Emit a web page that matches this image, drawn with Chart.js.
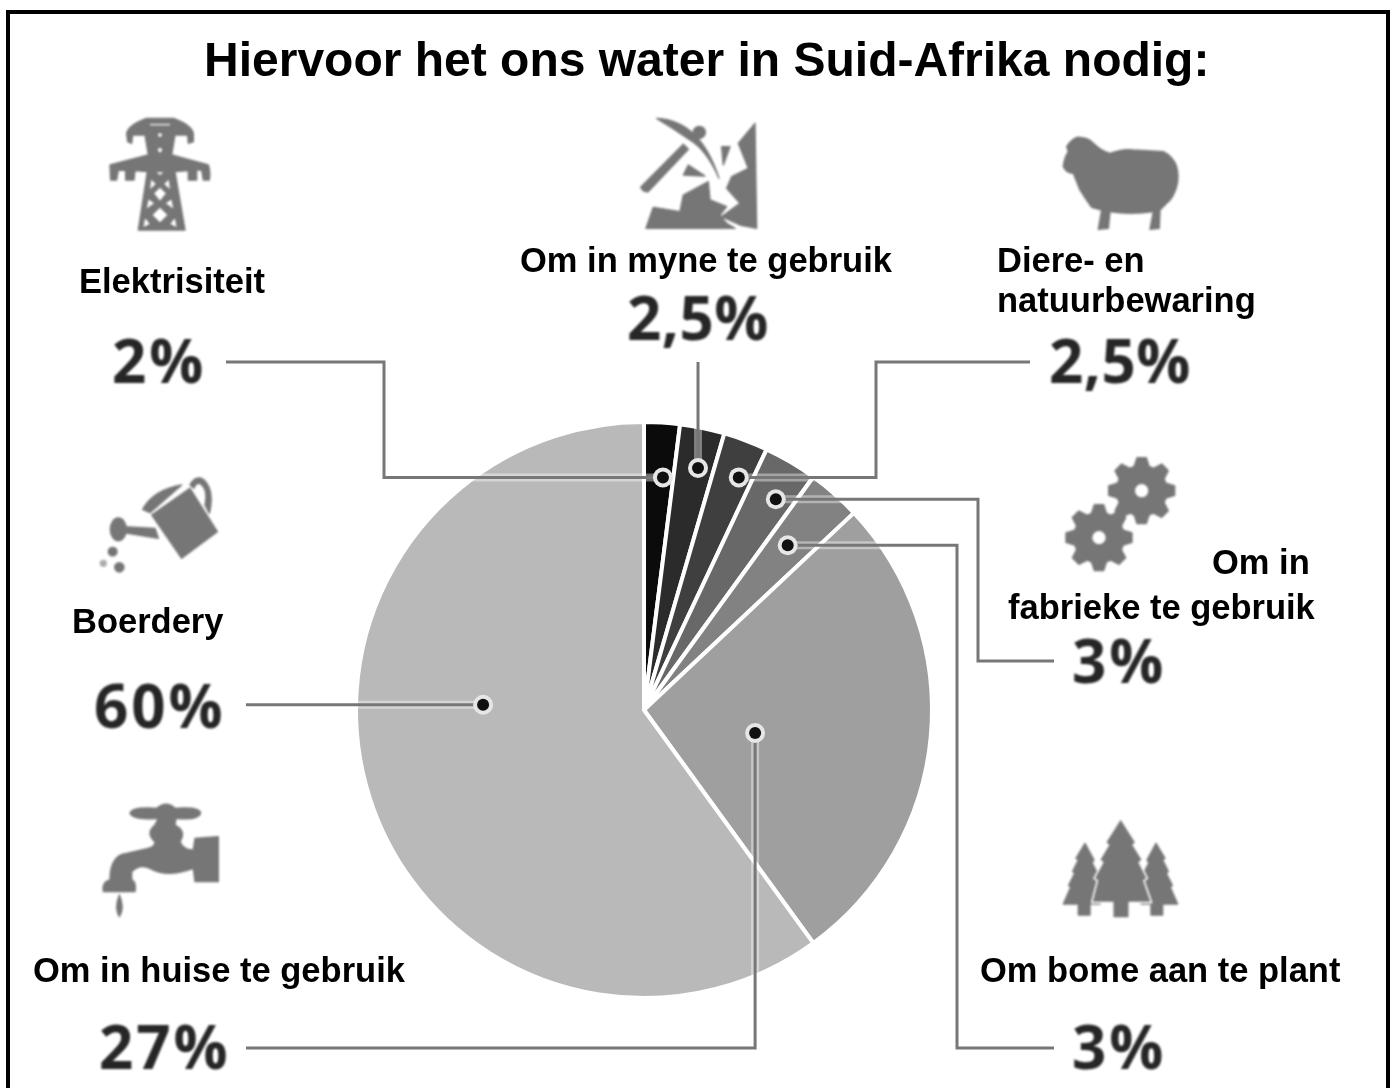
<!DOCTYPE html>
<html lang="af">
<head>
  <meta charset="utf-8">
  <title>Hiervoor het ons water in Suid-Afrika nodig</title>
  <script src="https://cdn.jsdelivr.net/npm/chart.js@4/dist/chart.umd.min.js"></script>
  <style>
    html, body { margin: 0; padding: 0; background: #fff; }
    #page { position: relative; width: 1392px; height: 1088px; overflow: hidden; background: #fff; }
    #chart { position: absolute; left: 0; top: 0; filter: blur(0.7px); }
    #icons { position: absolute; left: 0; top: 0; filter: blur(1.3px); }
    #icons * { fill: #767676; stroke: #767676; stroke-width: 4; stroke-linejoin: round; }
    #frame { position: absolute; left: 6px; top: 10px; width: 1376px; height: 1100px; border: 4px solid #000; }
    .t { position: absolute; font-family: "Liberation Sans", Arial, sans-serif; font-weight: bold; color: #000; white-space: pre; line-height: 1; }
    .p { position: absolute; font-family: "Open Sans", sans-serif; font-weight: 700; letter-spacing: 3px; color: #262626; white-space: pre; line-height: 1; filter: blur(0.9px); }
  </style>
</head>
<body>
<div id="page">
  <canvas id="chart" width="1392" height="1088"></canvas>
  <svg id="icons" width="1392" height="1088" viewBox="0 0 1392 1088">
    <!-- tower -->
    <g transform="translate(60,100) scale(.3333)">
      <path fill-rule="evenodd" d="M260 55L340 55Q395 75 400 100L400 125L385 130L383 105L345 105L335 165L445 195Q452 215 448 240L430 240L425 210L410 210L410 240L385 240L385 212L345 215L375 390L235 390L262 215L225 212L222 240L197 240L197 212L175 210L170 240L152 240L150 195L265 165L255 105L218 105L215 130L203 125L200 100Q205 75 260 55Z
      M285 215L315 215L300 228Z M272 235L290 252L268 272Z M328 235L310 252L332 272Z M300 260L320 280L300 305L280 280Z M264 295L285 310L258 330Z M336 295L315 310L342 330Z M300 320L325 345L300 370L275 345Z M254 350L272 372L248 385Z M346 350L328 372L352 385Z M300 95L310 105L300 115L290 105Z M300 138L310 150L300 162L290 150Z M268 70L332 70L332 78L268 78Z"/>
    </g>
    <!-- mine -->
    <g transform="translate(620,100) scale(.3333)">
      <path d="M110 55Q240 60 297 235Q260 150 210 120Q160 85 110 55Z"/>
      <circle cx="238" cy="97" r="18"/>
      <path d="M190 133L205 148L85 275Q70 278 62 262Z"/>
      <path d="M305 140L330 140L310 195Z"/>
      <path d="M205 195L190 225L255 228Z"/>
      <path d="M405 70L410 385L360 375L305 350L360 310L320 265L335 230L385 205L355 130Z"/>
      <path d="M78 385L100 322L180 335L190 285L265 245L270 300L320 320L300 345L320 370L345 385Z"/>
    </g>
    <!-- sheep -->
    <g transform="translate(1040,120) scale(.3333)">
      <path d="M70 140Q72 115 85 95L80 80Q100 50 120 52Q150 55 160 70Q185 95 210 100Q250 85 280 90L370 95Q400 110 410 140Q418 170 410 200Q400 235 380 250L360 270L358 325L330 328L340 275Q270 285 210 275L205 325L175 328L185 270L155 262Q135 235 120 210L100 160Q80 160 70 140Z"/>
    </g>
    <!-- watering can -->
    <g transform="translate(90,460) scale(.3333)">
      <path d="M185 165L300 85L382 215L275 295Z"/>
      <path d="M158 148Q190 90 275 75L180 158Z"/>
      <path d="M300 75Q315 45 340 58Q375 90 358 160L345 135Q355 90 332 72Q318 65 312 85Z"/>
      <path d="M195 205L205 235L100 218L100 200Z"/>
      <ellipse cx="85" cy="208" rx="24" ry="34"/>
      <circle cx="68" cy="275" r="13"/>
      <circle cx="88" cy="322" r="14"/>
      <circle cx="40" cy="310" r="9" style="opacity:.6"/>
    </g>
    <!-- gears -->
    <g id="gears" transform="translate(1050,450) scale(.3333)"></g>
    <!-- tap -->
    <g transform="translate(90,800) scale(.3333)">
      <path d="M120 40Q125 20 200 25Q230 0 255 25Q330 20 332 40Q325 62 258 55L255 75Q285 90 275 115L270 125Q280 150 310 150L315 115L385 110L385 245L315 245L310 205Q230 235 180 205Q150 190 125 215L125 240Q140 245 135 275L40 275Q35 245 60 240Q60 165 110 160L175 145Q195 140 195 125Q165 100 195 75L205 55Q130 62 120 40Z"/>
      <path d="M88 285Q105 325 88 350Q72 325 88 285Z"/>
    </g>
    <!-- trees -->
    <g transform="translate(1050,810) scale(.3333)">
      <path d="M105 100L132 150L126 158L145 195L138 208L155 240L150 282L120 282L120 315L85 315L85 282L40 282L62 232L56 226L74 190L68 184L85 150L78 145Z"/>
      <path d="M318 100L291 150L297 158L278 195L285 208L268 240L273 282L303 282L303 315L338 315L338 282L383 282L361 232L367 226L349 190L355 184L338 150L345 145Z"/>
      <path style="stroke:#fff;stroke-width:5" d="M212 25L258 98L250 105L278 150L268 157L292 205L282 212L305 278L238 278L238 324L188 324L188 278L125 278L142 212L132 205L158 157L148 150L175 105L166 98Z"/>
    </g>
  </svg>
  <div id="frame"></div>
  <div id="labels"></div>
</div>
<script>
  // Data, clockwise from 12 o'clock
  var categories = ["Elektrisiteit", "Om in myne te gebruik", "Diere- en\nnatuurbewaring", "Om in fabrieke te gebruik", "Om bome aan te plant", "Om in huise te gebruik", "Boerdery"];
  var shares = [2, 2.5, 2.5, 3, 3, 27, 60];
  var shareLabels = ["2%", "2,5%", "2,5%", "3%", "3%", "27%", "60%"];
  var sliceColors = ["#0b0b0b", "#2b2b2b", "#3f3f3f", "#686868", "#828282", "#9f9f9f", "#b9b9b9"];
  var chartTitle = "Hiervoor het ons water in Suid-Afrika nodig:";

  // Where each dot sits inside its slice: fraction of the slice's angle, fraction of the radius
  var dotAngle = [0.647, 0.598, 0.664, 0.632, 0.472, 0.565, 0.592];
  var dotRadius = [0.810, 0.861, 0.872, 0.863, 0.759, 0.394, 0.559];
  // Leader line routes from the dot out to the percentage
  var routes = [
    [["h", 384], ["v", 362], ["h", 226]],
    [["v", 362]],
    [["h", 876], ["v", 362], ["h", 1030]],
    [["h", 978], ["v", 661], ["h", 1054]],
    [["h", 957], ["v", 1048], ["h", 1054]],
    [["v", 1048], ["h", 246]],
    [["h", 246]]
  ];

  // Text placement
  var labelPos = [
    [[79, 264]],
    [[520, 243]],
    [[997, 243], [997, 283]],
    [[1212, 545], [1008, 590]],
    [[980, 953]],
    [[33, 953]],
    [[72, 604]]
  ];
  var pctPos = [[112, 330], [627, 287], [1049, 330], [1072, 630], [1072, 1016], [99, 1016], [94, 675]];

  var leaderPlugin = {
    id: "leaders",
    afterDatasetsDraw: function(chart) {
      var ctx = chart.ctx;
      var arcs = chart.getDatasetMeta(0).data;
      arcs.forEach(function(arc, i) {
        var a = arc.startAngle + (arc.endAngle - arc.startAngle) * dotAngle[i];
        var r = arc.outerRadius * dotRadius[i];
        var px = arc.x + Math.cos(a) * r;
        var py = arc.y + Math.sin(a) * r;

        // trace twice: pale halo, then the grey core
        var trace = function() {
          var x = px, y = py;
          ctx.beginPath();
          ctx.moveTo(x, y);
          routes[i].forEach(function(s) {
            if (s[0] == "h") x = s[1]; else y = s[1];
            ctx.lineTo(x, y);
          });
          ctx.stroke();
        };
        ctx.save();
        ctx.lineJoin = "miter";
        ctx.strokeStyle = "rgba(255,255,255,0.4)";
        ctx.lineWidth = 8;
        trace();
        ctx.strokeStyle = "#777";
        ctx.lineWidth = 3;
        trace();

        ctx.beginPath();
        ctx.arc(px, py, 10, 0, Math.PI * 2);
        ctx.fillStyle = "#e6e6e6";
        ctx.fill();
        ctx.beginPath();
        ctx.arc(px, py, 6, 0, Math.PI * 2);
        ctx.fillStyle = "#111";
        ctx.fill();
        ctx.restore();
      });
    }
  };

  new Chart(document.getElementById("chart"), {
    type: "pie",
    data: {
      labels: categories,
      datasets: [{
        data: shares,
        backgroundColor: sliceColors,
        borderColor: "#fff",
        borderWidth: 4,
        borderAlign: "center"
      }]
    },
    options: {
      responsive: false,
      animation: false,
      layout: { padding: { left: 354, right: 458, top: 420, bottom: 88 } },
      plugins: { legend: { display: false }, tooltip: { enabled: false } }
    },
    plugins: [leaderPlugin]
  });

  function addText(cls, text, x, y, size) {
    var d = document.createElement("div");
    d.className = cls;
    d.textContent = text;
    d.style.left = x + "px";
    d.style.top = y + "px";
    d.style.fontSize = size + "px";
    document.getElementById("labels").appendChild(d);
    return d;
  }

  addText("t", chartTitle, 204, 36, 48);
  var fabriekeLines = ["Om in", "fabrieke te gebruik"];
  categories.forEach(function(c, i) {
    var lines = i == 3 ? fabriekeLines : c.split("\n");
    lines.forEach(function(l, j) {
      addText("t", l, labelPos[i][j][0], labelPos[i][j][1], 34.5);
    });
    var p = addText("p", shareLabels[i], pctPos[i][0], pctPos[i][1], 60);
    if (shareLabels[i].indexOf(",") >= 0) p.style.letterSpacing = "0.5px"; // the comma runs narrow in the original
  });

  // eight-tooth gears
  var gearCentres = [[275, 122, 100], [147, 263, 100]];
  var gearGroup = document.getElementById("gears");
  var html = "";
  gearCentres.forEach(function(g) {
    var d = "";
    for (var k = 0; k < 8; k++) {
      var a = k * Math.PI / 4 - Math.PI / 2;
      var pts = [[-0.3, 0.76], [-0.14, 1], [0.14, 1], [0.3, 0.76]];
      pts.forEach(function(p, n) {
        var r = p[1] * g[2], t = a + p[0];
        d += (k == 0 && n == 0 ? "M" : "L") + (g[0] + Math.cos(t) * r).toFixed(1) + " " + (g[1] + Math.sin(t) * r).toFixed(1);
      });
    }
    d += "Z M" + (g[0] + 22) + " " + g[1] + "a22 22 0 1 0 -44 0a22 22 0 1 0 44 0Z";
    html += '<path fill-rule="evenodd" d="' + d + '"/>';
  });
  gearGroup.innerHTML = html;
</script>
</body>
</html>
